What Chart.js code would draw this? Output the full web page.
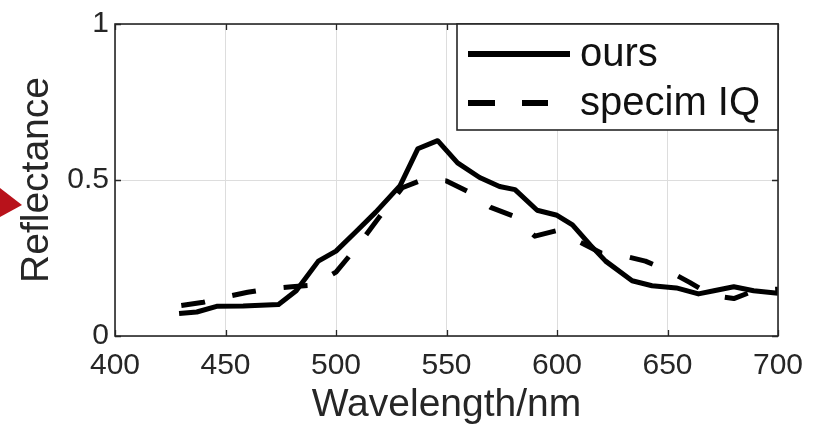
<!DOCTYPE html>
<html>
<head>
<meta charset="utf-8">
<script src="https://cdn.jsdelivr.net/npm/chart.js@4.4.1/dist/chart.umd.min.js"></script>
<style>
html,body{margin:0;padding:0;background:#ffffff;}
#wrap{width:813px;height:429px;position:relative;}
</style>
</head>
<body>
<div id="wrap"><canvas id="c" width="813" height="429"></canvas></div>
<script>
// ---- data ----
const seriesLabels = ['ours', 'specim IQ'];
const oursWavelength  = [429, 437, 446, 458, 474, 482, 492, 500, 509, 518, 529, 537, 546, 555, 565, 574, 581, 591, 600, 607, 615, 622, 634, 643, 654, 664, 671, 680, 689, 700];
const oursReflectance = [0.072, 0.077, 0.095, 0.096, 0.101, 0.145, 0.240, 0.272, 0.334, 0.397, 0.482, 0.600, 0.626, 0.555, 0.508, 0.479, 0.469, 0.403, 0.387, 0.356, 0.292, 0.240, 0.177, 0.161, 0.154, 0.135, 0.145, 0.158, 0.145, 0.137];
const specimWavelength  = [430, 440, 450, 460, 470, 480, 490, 500, 510, 520, 530, 540, 550, 560, 570, 580, 590, 600, 610, 620, 630, 640, 650, 660, 670, 680, 690, 700];
const specimReflectance = [0.098, 0.108, 0.125, 0.140, 0.152, 0.158, 0.163, 0.205, 0.290, 0.385, 0.475, 0.503, 0.497, 0.462, 0.412, 0.385, 0.320, 0.338, 0.302, 0.266, 0.257, 0.240, 0.210, 0.172, 0.130, 0.120, 0.147, 0.150];
const xTicks = [400, 450, 500, 550, 600, 650, 700];
const yTicks = [0, 0.5, 1];
const xTitle = 'Wavelength/nm';
const yTitle = 'Reflectance';

const toPoints = (xs, ys) => xs.map((x, i) => ({x: x, y: ys[i]}));

const FONT = "'Liberation Sans', Arial, Helvetica, sans-serif";
const INK = '#262626';

const framePlugin = {
  id: 'matlabFrame',
  beforeDraw(chart) {
    const ctx = chart.ctx;
    ctx.save();
    ctx.fillStyle = '#ffffff';
    ctx.fillRect(0, 0, chart.width, chart.height);
    // red arrow fragment of the cropped photo at the left edge
    ctx.fillStyle = '#b8121b';
    ctx.beginPath();
    ctx.moveTo(0, 188);
    ctx.lineTo(22, 205);
    ctx.lineTo(0, 217);
    ctx.closePath();
    ctx.fill();
    ctx.restore();
  },
  afterDraw(chart) {
    const {ctx, chartArea, scales} = chart;
    const {left, top, right, bottom} = chartArea;
    ctx.save();
    // inward ticks on all four sides
    ctx.strokeStyle = INK;
    ctx.lineWidth = 1.3;
    ctx.beginPath();
    xTicks.forEach(v => {
      const px = Math.round(scales.x.getPixelForValue(v)) + 0.5;
      ctx.moveTo(px, bottom); ctx.lineTo(px, bottom - 6);
      ctx.moveTo(px, top); ctx.lineTo(px, top + 6);
    });
    yTicks.forEach(v => {
      const py = Math.round(scales.y.getPixelForValue(v)) + 0.5;
      ctx.moveTo(left, py); ctx.lineTo(left + 6, py);
      ctx.moveTo(right, py); ctx.lineTo(right - 6, py);
    });
    ctx.stroke();
    // box
    ctx.lineWidth = 1.6;
    ctx.strokeRect(left, top, right - left, bottom - top);

    // legend box in the upper right corner
    const lw = 321, lh = 106;
    const lx = right - lw, ly = top;
    ctx.fillStyle = '#ffffff';
    ctx.fillRect(lx, ly, lw, lh);
    ctx.strokeStyle = INK;
    ctx.lineWidth = 1.6;
    ctx.strokeRect(lx, ly, lw, lh);
    ctx.font = '40px ' + FONT;
    ctx.textBaseline = 'middle';
    ctx.textAlign = 'left';
    chart.data.datasets.forEach((ds, i) => {
      const cy = ly + 30 + i * 49;
      const dashed = ds.borderDash && ds.borderDash.length;
      ctx.save();
      ctx.strokeStyle = ds.borderColor;
      ctx.lineWidth = 6;
      ctx.lineCap = 'butt';
      ctx.setLineDash(dashed ? [27, 27] : []);
      ctx.beginPath();
      ctx.moveTo(lx + 11, cy);
      ctx.lineTo(lx + (dashed ? 91 : 113), cy);
      ctx.stroke();
      ctx.restore();
      ctx.fillStyle = '#111111';
      ctx.fillText(ds.label, lx + 123, cy + 1);
    });
    ctx.restore();
  }
};

new Chart(document.getElementById('c'), {
  type: 'line',
  data: {
    datasets: [
      {
        label: seriesLabels[0],
        data: toPoints(oursWavelength, oursReflectance),
        borderColor: '#000000',
        borderWidth: 5,
        borderJoinStyle: 'round',
        borderCapStyle: 'butt',
        pointRadius: 0,
        tension: 0,
        fill: false
      },
      {
        label: seriesLabels[1],
        data: toPoints(specimWavelength, specimReflectance),
        borderColor: '#000000',
        borderWidth: 5,
        borderDash: [24, 28],
        borderJoinStyle: 'round',
        borderCapStyle: 'butt',
        pointRadius: 0,
        tension: 0,
        fill: false
      }
    ]
  },
  options: {
    responsive: false,
    devicePixelRatio: 1,
    animation: false,
    layout: {padding: {top: 19, right: 35, left: 0, bottom: 0}},
    plugins: {
      legend: {display: false},
      tooltip: {enabled: false}
    },
    scales: {
      x: {
        type: 'linear',
        min: 400,
        max: 700,
        afterBuildTicks: s => { s.ticks = xTicks.map(v => ({value: v})); },
        afterFit: s => { s.height = 93; s.paddingLeft = 0; s.paddingRight = 0; },
        ticks: {
          font: {family: FONT, size: 30},
          color: INK,
          padding: 12,
          maxRotation: 0,
          autoSkip: false
        },
        grid: {color: '#dddddd', lineWidth: 1, drawTicks: false},
        border: {display: false},
        title: {
          display: true,
          text: xTitle,
          color: INK,
          font: {family: FONT, size: 39},
          padding: {top: 0, bottom: 0}
        }
      },
      y: {
        type: 'linear',
        min: 0,
        max: 1,
        afterBuildTicks: s => { s.ticks = yTicks.map(v => ({value: v})); },
        afterFit: s => { s.width = 115; },
        ticks: {
          font: {family: FONT, size: 30},
          color: INK,
          padding: 6,
          callback: v => String(v)
        },
        grid: {color: '#dddddd', lineWidth: 1, drawTicks: false},
        border: {display: false},
        title: {
          display: true,
          text: yTitle,
          color: INK,
          font: {family: FONT, size: 39},
          padding: {top: 14, bottom: 0}
        }
      }
    }
  },
  plugins: [framePlugin]
});
</script>
</body>
</html>
